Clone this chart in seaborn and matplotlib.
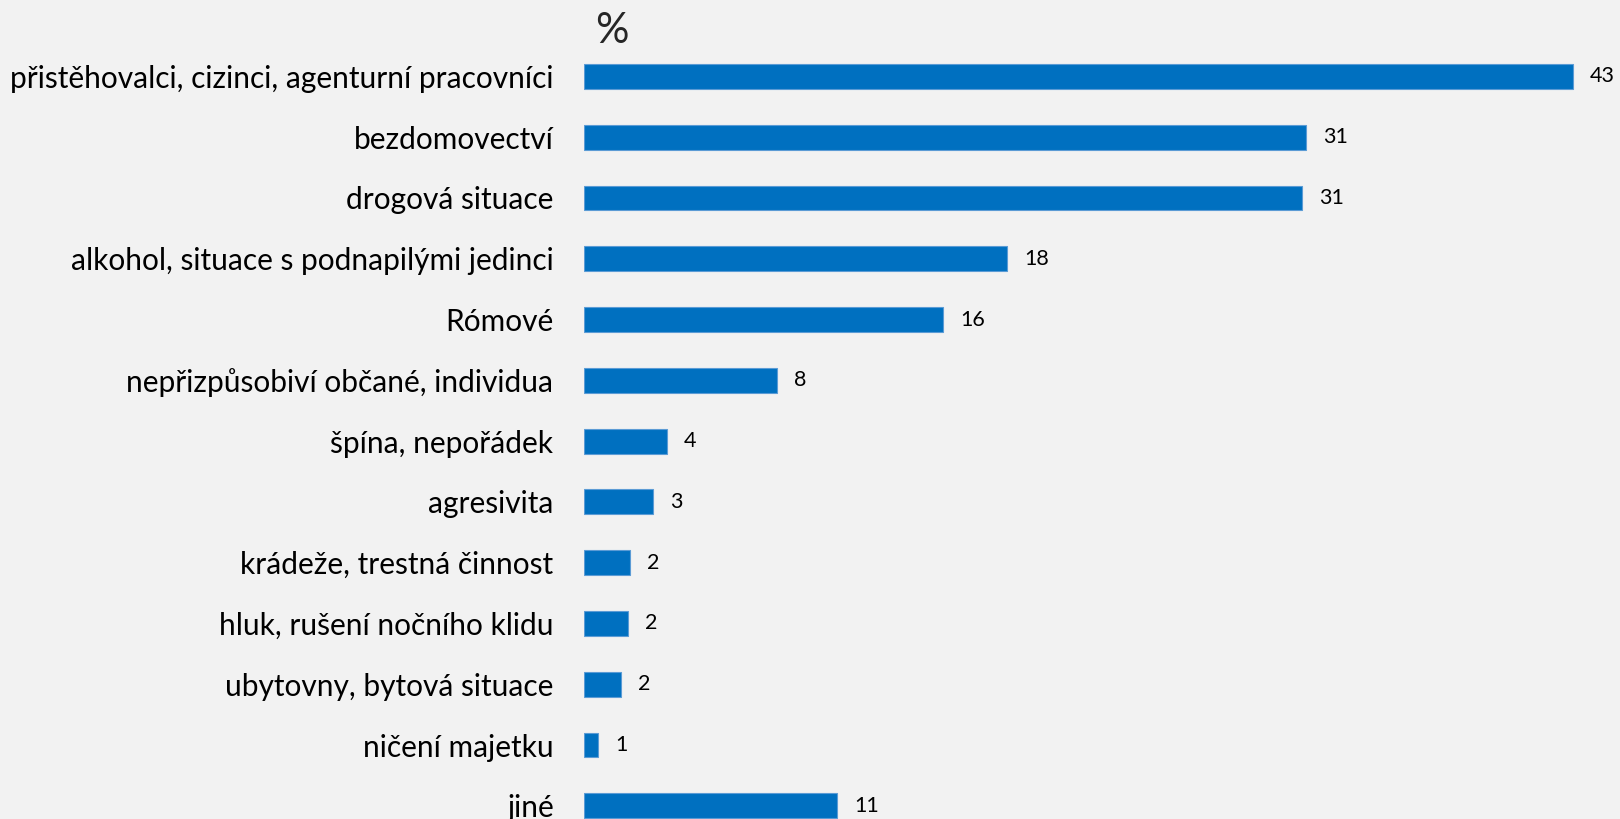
import pandas as pd
import matplotlib.pyplot as plt
import seaborn as sns

# ==========================================
# DATA
# ==========================================
categories = [
    "přistěhovalci, cizinci, agenturní pracovníci",
    "bezdomovectví",
    "drogová situace",
    "alkohol, situace s podnapilými jedinci",
    "Rómové",
    "nepřizpůsobiví občané, individua",
    "špína, nepořádek",
    "agresivita",
    "krádeže, trestná činnost",
    "hluk, rušení nočního klidu",
    "ubytovny, bytová situace",
    "ničení majetku",
    "jiné",
]
values = [43.0, 31.4, 31.2, 18.4, 15.6, 8.4, 3.6, 3.0, 2.0, 1.9, 1.6, 0.6, 11.0]

df = pd.DataFrame({"Category": categories, "Percent": values})

# ==========================================
# PLOT
# ==========================================
sns.set_style("white")
plt.rcParams['font.family'] = ['Lato', 'DejaVu Sans']

bg = "#f2f2f2"
fig = plt.figure(figsize=(16.2, 8.19), dpi=100, facecolor=bg)
# axes runs a little past the bottom edge, like the original
ax = fig.add_axes([0.3605, -0.021, 0.639, 0.9648], facecolor=bg)

sns.barplot(data=df, x="Percent", y="Category", orient="h", color="#0070c0",
            saturation=1, width=0.41, edgecolor="#5b9bd5", linewidth=0.8, ax=ax)

ax.set_xlim(0, 45)
ax.set_ylim(len(categories) - 0.5, -0.5)

for i, v in enumerate(values):
    ax.text(v + 0.74, i, f"{v:.0f}", va="center", ha="left", fontsize=15.5, color="#000000")

ax.set_xlabel("")
ax.set_ylabel("")
ax.set_xticks([])
ax.tick_params(axis="y", length=0, pad=22, labelsize=21.5, labelcolor="#000000")
sns.despine(ax=ax, left=True, bottom=True)

fig.text(612 / 1620, 1 - 31 / 819, "%", fontsize=30, ha="center", va="center")

fig.savefig("out.png", dpi=100, facecolor=bg)
